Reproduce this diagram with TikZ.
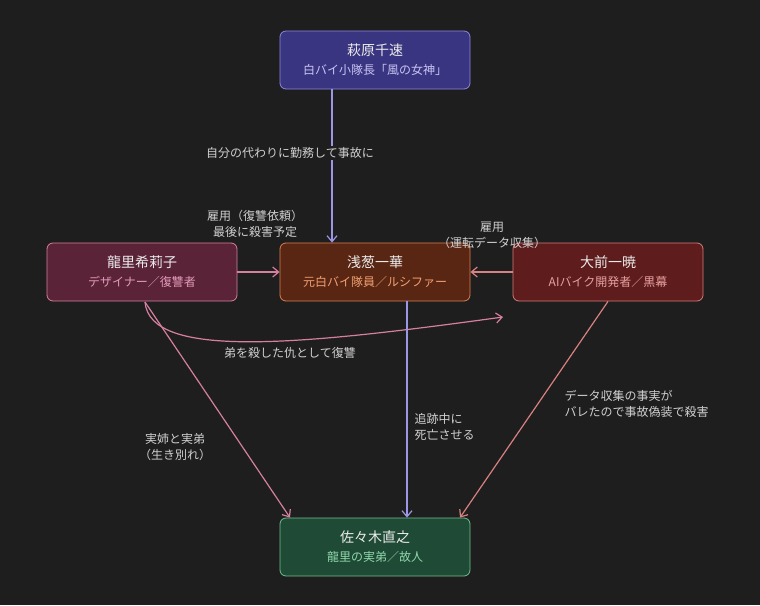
\documentclass[tikz,border=0pt]{standalone}
\usepackage{fontspec}
\setmainfont{Noto Sans CJK JP}
\usetikzlibrary{arrows.meta}
\definecolor{bg}{HTML}{1E1E1E}
\definecolor{txt}{HTML}{D0D0D0}
\definecolor{purpleline}{HTML}{9C96E6}
\definecolor{pinkline}{HTML}{D67FA0}
\definecolor{salmonline}{HTML}{D98080}
\definecolor{hagifill}{HTML}{3A3580}\definecolor{hagidraw}{HTML}{8C87E0}\definecolor{hagisub}{HTML}{C8C4F5}
\definecolor{ryufill}{HTML}{5A2338}\definecolor{ryudraw}{HTML}{D67FA0}\definecolor{ryusub}{HTML}{E29AB8}
\definecolor{asafill}{HTML}{5A2614}\definecolor{asadraw}{HTML}{D9804F}\definecolor{asasub}{HTML}{F0A070}
\definecolor{omafill}{HTML}{5E1C1C}\definecolor{omadraw}{HTML}{D67A7A}\definecolor{omasub}{HTML}{E8A0A0}
\definecolor{sasfill}{HTML}{1F4A35}\definecolor{sasdraw}{HTML}{6FBF90}\definecolor{sassub}{HTML}{90D8AC}
\newcommand{\personlabel}[3]{\textcolor{white!92!black}{#1}\\[3pt]{\fontsize{12}{14}\selectfont\textcolor{#3}{#2}}}
\begin{document}
\begin{tikzpicture}[x=1pt,y=-1pt,font=\fontsize{14}{16}\selectfont,
  person/.style={draw,rounded corners=6pt,minimum width=190pt,minimum height=58pt,align=center,line width=0.8pt},
  conn/.style={line width=1.2pt,-{Straight Barb[length=6pt,width=10pt]}},
  lbl/.style={fill=bg,text=txt,align=center,inner sep=1.5pt,font=\fontsize{12}{16}\selectfont}]
\fill[bg] (0,0) rectangle (760,605);

% people
\node[person,fill=hagifill,draw=hagidraw] (hagiwara) at (375,60) {\personlabel{萩原千速}{白バイ小隊長「風の女神」}{hagisub}};
\node[person,fill=ryufill,draw=ryudraw] (ryuri) at (142,272) {\personlabel{龍里希莉子}{デザイナー／復讐者}{ryusub}};
\node[person,fill=asafill,draw=asadraw] (asagi) at (375,272) {\personlabel{浅葱一華}{元白バイ隊員／ルシファー}{asasub}};
\node[person,fill=omafill,draw=omadraw] (omae) at (608,272) {\personlabel{大前一暁}{AIバイク開発者／黒幕}{omasub}};
\node[person,fill=sasfill,draw=sasdraw] (sasaki) at (375,547) {\personlabel{佐々木直之}{龍里の実弟／故人}{sassub}};

\coordinate (ryuribot) at (145,302);
\coordinate (omaetip) at (503,317);

% connectors
\draw[conn,purpleline] (hagiwara.south -| 332,0) -- (asagi.north -| 332,0);
\node[lbl] at (290,153) {自分の代わりに勤務して事故に};
\draw[conn,pinkline] (ryuri) -- (asagi);
\node[lbl,fill=none] at (255,224) {雇用（復讐依頼）\\最後に殺害予定};
\draw[conn,salmonline] (omae) -- (asagi);
\node[lbl,fill=none] at (492,235) {雇用\\（運転データ収集）};
\draw[conn,pinkline] (ryuribot) .. controls (150,360) and (300,345) .. (omaetip);
\node[lbl] at (290,353) {弟を殺した仇として復讐};
\draw[conn,pinkline] (ryuribot) -- (sasaki.north -| 290,0);
\node[lbl,fill=none] at (175,447) {実姉と実弟\\（生き別れ）};
\draw[conn,purpleline] (asagi.south -| 407,0) -- (sasaki.north -| 407,0);
\node[lbl,fill=none,anchor=west,align=left] at (413,427) {追跡中に\\死亡させる};
\draw[conn,salmonline] (omae.south) -- (sasaki.north -| 460,0);
\node[lbl,fill=none,anchor=west,align=left] at (563,404) {データ収集の事実が\\バレたので事故偽装で殺害};
\end{tikzpicture}
\end{document}
